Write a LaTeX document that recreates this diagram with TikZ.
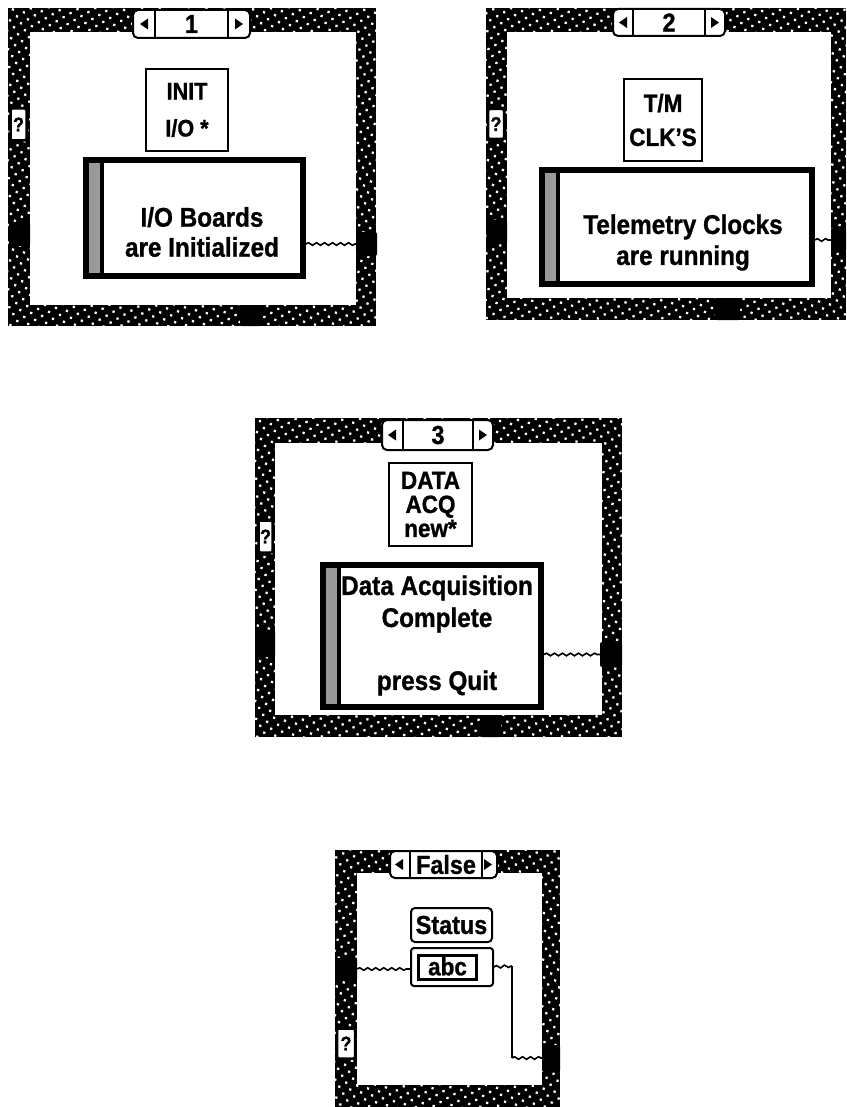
\documentclass[tikz,border=0pt]{standalone}
\usepackage{fontspec}
\setmainfont{Liberation Sans}[FakeStretch=0.9, BoldFeatures={FakeBold=1}]
\usetikzlibrary{patterns.meta,decorations.pathmorphing}
\tikzset{
  borddots/.style={pattern={Dots[distance=8pt,radius=1.6pt,angle=30]},pattern color=white},
  term/.style={fill=black, rounded corners=2pt, inner sep=0pt},
  qterm/.style={draw=black, line width=2.5pt, fill=white, rounded corners=2pt, inner sep=0pt,
    font=\fontsize{20}{20}\selectfont\bfseries},
  lbl/.style={draw=black, line width=2pt, fill=white, inner sep=0pt, align=center},
  msgbox/.style={draw=black, line width=6pt, fill=white, inner sep=0pt,
    path picture={
      \fill[black] (path picture bounding box.north west) rectangle ([xshift=18pt]path picture bounding box.south west);
      \fill[black!40] ([xshift=2pt]path picture bounding box.north west) rectangle ([xshift=14pt]path picture bounding box.south west);
    }},
  msgtxt/.style={font=\fontsize{27}{31}\selectfont\bfseries, align=center, inner sep=0pt},
  seltxt/.style={font=\fontsize{26}{26}\selectfont\bfseries, inner sep=0pt},
  selframe/.style={draw=black, line width=2pt, fill=white, rounded corners=5pt},
  seldiv/.style={line width=2pt},
  wire/.style={line width=1.6pt, decorate, decoration={snake, segment length=8pt, amplitude=1.3pt}},
  plainwire/.style={line width=1.8pt},
}
\begin{document}
\begin{tikzpicture}[x=1pt,y=-1pt]
\useasboundingbox (0,0) rectangle (846,1107);
\fill[white] (0,0) rectangle (846,1107);

% ================= Frame 1 =================
\fill[black] (8,8) rectangle (376,326);
\fill[borddots] (8,8) rectangle (376,326);
\fill[white] (30,32) rectangle (356,305);
\draw[selframe] (133,10) rectangle (250,38);
\draw[seldiv] (155,10) -- (155,38) (228,10) -- (228,38);
\fill (140,24) -- (148,18.5) -- (148,29.5) -- cycle;
\fill (243,24) -- (235,18.5) -- (235,29.5) -- cycle;
\node[seltxt] (sel1) at (191.5,24) {1};
\node[qterm, minimum width=16, minimum height=32] (q1) at (18.5,124.5) {?};
\node[term, minimum width=21, minimum height=24] (t1l) at (19.5,234) {};
\node[term, minimum width=21, minimum height=24] (t1r) at (366.5,244) {};
\node[term, minimum width=22, minimum height=21] (t1b) at (251,315.5) {};
\node[lbl, minimum width=82, minimum height=82, font=\fontsize{24}{37}\selectfont\bfseries] (lab1) at (187,110) {INIT\\I/O *};
\node[msgbox, minimum width=217, minimum height=116] (m1) at (194.5,218) {};
\node[msgtxt, font=\fontsize{27}{30}\selectfont\bfseries] (m1t) at (202,232) {I/O Boards\\are Initialized};
\draw[wire] (m1.east |- t1r.west) -- (t1r.west);

% ================= Frame 2 =================
\fill[black] (486,8) rectangle (846,320);
\fill[borddots] (486,8) rectangle (846,320);
\fill[white] (507,32) rectangle (831,298);
\draw[selframe] (613,9) rectangle (725,36);
\draw[seldiv] (633,9) -- (633,36) (705,9) -- (705,36);
\fill (619,22.5) -- (627,17) -- (627,28) -- cycle;
\fill (719,22.5) -- (711,17) -- (711,28) -- cycle;
\node[seltxt] (sel2) at (669,22.5) {2};
\node[qterm, minimum width=16, minimum height=30] (q2) at (496,124) {?};
\node[term, minimum width=20, minimum height=24] (t2l) at (497,232) {};
\node[term, minimum width=15, minimum height=24] (t2r) at (838.5,240) {};
\node[term, minimum width=25, minimum height=22] (t2b) at (727.5,309) {};
\node[lbl, minimum width=78, minimum height=82, font=\fontsize{25}{34}\selectfont\bfseries] (lab2) at (663,120) {T/M\\CLK'S};
\node[msgbox, minimum width=270, minimum height=114] (m2) at (677,227) {};
\node[msgtxt] (m2t) at (683,242.5) {Telemetry Clocks\\are running};
\draw[wire] (m2.east |- t2r.west) -- (t2r.west);

% ================= Frame 3 =================
\fill[black] (255,418) rectangle (622,737);
\fill[borddots] (255,418) rectangle (622,737);
\fill[white] (275,443) rectangle (602,715);
\draw[selframe] (382,420) rectangle (493,450);
\draw[seldiv] (403,420) -- (403,450) (473,420) -- (473,450);
\fill (388,435) -- (396,429.5) -- (396,440.5) -- cycle;
\fill (487,435) -- (479,429.5) -- (479,440.5) -- cycle;
\node[seltxt] (sel3) at (438,435) {3};
\node[qterm, minimum width=14, minimum height=32] (q3) at (265.5,536.5) {?};
\node[term, minimum width=20, minimum height=27] (t3l) at (265,643.5) {};
\node[term, minimum width=22, minimum height=25] (t3r) at (611,654.5) {};
\node[term, minimum width=20, minimum height=22] (t3b) at (491,726) {};
\node[lbl, minimum width=83, minimum height=83, font=\fontsize{25}{24}\selectfont\bfseries] (lab3) at (430.5,504.5) {DATA\\ACQ\\new*};
\node[msgbox, minimum width=218, minimum height=142] (m3) at (432,636) {};
\node[msgtxt, font=\fontsize{27}{32}\selectfont\bfseries] (m3t) at (437,604) {Data Acquisition\\Complete};
\node[msgtxt] (m3q) at (437,683) {press Quit};
\draw[wire] (m3.east |- t3r.west) -- (t3r.west);

% ================= Frame 4 =================
\fill[black] (335,850) rectangle (560,1107);
\fill[borddots] (335,850) rectangle (560,1107);
\fill[white] (357,873) rectangle (542,1085);
\draw[selframe] (390,851) rectangle (497,878);
\draw[seldiv] (410,851) -- (410,878) (482,851) -- (482,878);
\fill (395,864.5) -- (403,859) -- (403,870) -- cycle;
\fill (492,864.5) -- (484,859) -- (484,870) -- cycle;
\node[seltxt] (sel4) at (446,864.5) {False};
\node[term, minimum width=22, minimum height=22] (t4l) at (346,969) {};
\node[qterm, minimum width=18, minimum height=30] (q4) at (346,1043.5) {?};
\node[term, minimum width=18, minimum height=27] (t4r) at (551,1058.5) {};
\node[lbl, rounded corners=4pt, minimum width=81, minimum height=34, font=\fontsize{26}{26}\selectfont\bfseries] (st4) at (451.5,925) {Status};
\node[lbl, rounded corners=3pt, minimum width=82, minimum height=38] (ab4) at (452,967) {};
\node[draw=black, line width=3pt, fill=white, inner sep=0pt, minimum width=58, minimum height=24, font=\fontsize{25}{25}\selectfont\bfseries] (abc4) at (447.5,967) {\raisebox{1.5pt}{abc}};
\coordinate (c4a) at (512,966);
\coordinate (c4b) at (512,1058);
\draw[wire] (t4l.east) -- (t4l.east -| ab4.west);
\draw[wire] (ab4.east) -- (c4a);
\draw[plainwire] (c4a) -- (c4b);
\draw[wire] (c4b) -- (c4b -| t4r.west);
\end{tikzpicture}
\end{document}
